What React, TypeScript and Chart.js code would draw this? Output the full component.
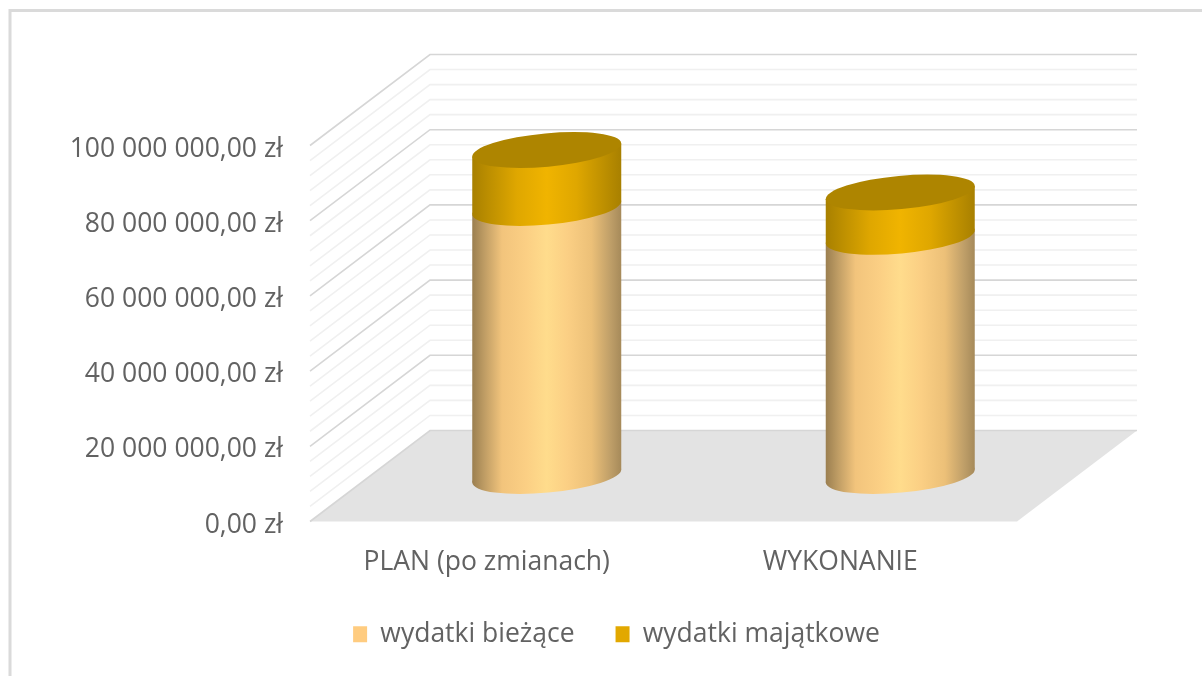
import React, { useEffect, useRef } from "react";
import { Chart, registerables } from "chart.js";

Chart.register(...registerables);

const categories = ["PLAN (po zmianach)", "WYKONANIE"];
const wydatkiBiezace = [71300000, 63600000];
const wydatkiMajatkowe = [15400000, 11800000];
const seriesNames = ["wydatki bieżące", "wydatki majątkowe"];
const axisMax = 100000000;
const majorStep = 20000000;
const minorStep = 4000000;

const FONT = "'Open Sans', 'Noto Sans', sans-serif";
const TEXT = "#626262";
const DEPTH_X = 120;
const DEPTH_Y = 91;
const TILT = (-5.25 * Math.PI) / 180;

const lightStops: [number, string][] = [
  [0, "#9B7F50"], [0.08, "#BE9C64"], [0.2, "#F2C47C"], [0.36, "#FBCF84"],
  [0.5, "#FFDC8C"], [0.64, "#FBCF84"], [0.8, "#ECC078"], [0.93, "#BE9E68"], [1, "#A68A5A"],
];
const goldStops: [number, string][] = [
  [0, "#A88000"], [0.12, "#BE9000"], [0.3, "#DFA700"],
  [0.5, "#F0B400"], [0.7, "#DFA700"], [0.88, "#BE9000"], [1, "#A88000"],
];
const stops = [lightStops, goldStops];
const TOP_COLOR = "#AE8500";

function money(v: number): string {
  const s = Math.round(v).toString().replace(/\B(?=(\d{3})+(?!\d))/g, " ");
  return `${s},00 zł`;
}

function drawCylinders(chart: any) {
  const { ctx } = chart;
  const last = chart.data.datasets.length - 1;
  ctx.save();
  ctx.translate(DEPTH_X / 2, -DEPTH_Y / 2);
  chart.data.datasets.forEach((_: any, idx: number) => {
    chart.getDatasetMeta(idx).data.forEach((el: any) => {
      const half = el.width / 2;
      const xL = el.x - half;
      const xR = el.x + half;
      const a = half * 1.004;
      const b = half * 0.224;
      const skew = half * 0.087;
      const g = ctx.createLinearGradient(xL, 0, xR, 0);
      stops[idx].forEach(([o, c]) => g.addColorStop(o, c));
      ctx.fillStyle = g;
      ctx.beginPath();
      ctx.moveTo(xL, el.y + skew);
      ctx.lineTo(xL, el.base + skew);
      ctx.lineTo(xR, el.base - skew);
      ctx.lineTo(xR, el.y - skew);
      ctx.closePath();
      ctx.fill();
      ctx.beginPath();
      ctx.ellipse(el.x, el.base, a, b, TILT, 0, Math.PI * 2);
      ctx.fill();
      if (idx === last) {
        ctx.fillStyle = TOP_COLOR;
        ctx.beginPath();
        ctx.ellipse(el.x, el.y, a, b, TILT, 0, Math.PI * 2);
        ctx.fill();
      }
    });
  });
  ctx.restore();
}

const scene = {
  id: "scene3d",
  beforeDraw(chart: any) {
    const { ctx } = chart;
    ctx.save();
    ctx.strokeStyle = "#DADADA";
    ctx.lineWidth = 3;
    ctx.beginPath();
    ctx.moveTo(10, 676);
    ctx.lineTo(10, 10.5);
    ctx.lineTo(1202, 10.5);
    ctx.stroke();
    ctx.restore();
  },
  afterLayout(chart: any) {
    const lg = chart.legend;
    const dx = 616.5 - (lg.left + lg.right) / 2;
    const h = lg.bottom - lg.top;
    lg.left += dx;
    lg.right += dx;
    lg.top = 580;
    lg.bottom = 580 + h;
  },
  beforeDatasetsDraw(chart: any) {
    const { ctx, chartArea: a, scales } = chart;
    const y = scales.y;
    const y0 = y.getPixelForValue(0);
    ctx.save();
    ctx.fillStyle = "#E3E3E3";
    ctx.beginPath();
    ctx.moveTo(a.left, y0);
    ctx.lineTo(a.right, y0);
    ctx.lineTo(a.right + DEPTH_X, y0 - DEPTH_Y);
    ctx.lineTo(a.left + DEPTH_X, y0 - DEPTH_Y);
    ctx.closePath();
    ctx.fill();
    for (let v = 0; v <= axisMax; v += minorStep) {
      const major = v % majorStep === 0;
      const py = y.getPixelForValue(v);
      ctx.strokeStyle = major ? "#D6D6D6" : "#F0F0F0";
      ctx.lineWidth = 1.6;
      ctx.beginPath();
      ctx.moveTo(a.left, py);
      ctx.lineTo(a.left + DEPTH_X, py - DEPTH_Y);
      ctx.lineTo(a.right + DEPTH_X, py - DEPTH_Y);
      ctx.stroke();
    }
    ctx.restore();
    drawCylinders(chart);
  },
  beforeDatasetDraw() {
    return false;
  },
};

export default function App() {
  const ref = useRef<HTMLCanvasElement>(null);
  useEffect(() => {
    document.body.style.margin = "0";
    const chart = new Chart(ref.current!, {
      type: "bar",
      plugins: [scene],
      data: {
        labels: categories,
        datasets: [
          { label: seriesNames[0], data: wydatkiBiezace, backgroundColor: "#FFCC80" },
          { label: seriesNames[1], data: wydatkiMajatkowe, backgroundColor: "#E2A800" },
        ],
      },
      options: {
        responsive: false,
        animation: false,
        events: [],
        barPercentage: 0.4215,
        categoryPercentage: 1,
        layout: { padding: { top: 145.5, left: 33, right: 185, bottom: 17 } },
        plugins: {
          tooltip: { enabled: false },
          legend: {
            position: "bottom",
            labels: {
              color: TEXT,
              font: { family: FONT, size: 26.5 },
              boxWidth: 14,
              boxHeight: 16,
              padding: 41,
            },
          },
        },
        scales: {
          x: {
            stacked: true,
            grid: { display: false },
            border: { display: false },
            ticks: { color: TEXT, font: { family: FONT, size: 26.5 }, padding: 17.5, maxRotation: 0 },
            afterFit(s: any) { s.height = 60; },
          },
          y: {
            stacked: true,
            min: 0,
            max: axisMax,
            grid: { display: false },
            border: { display: false },
            ticks: {
              stepSize: majorStep,
              color: TEXT,
              font: { family: FONT, size: 26.5 },
              padding: 19,
              labelOffset: 3.5,
              callback: (v: any) => money(Number(v)),
            },
            afterFit(s: any) { s.width = 277; },
          },
        },
      } as any,
    });
    return () => chart.destroy();
  }, []);
  return <canvas ref={ref} width={1202} height={676} style={{ display: "block", filter: "blur(0.4px)" }} />;
}
